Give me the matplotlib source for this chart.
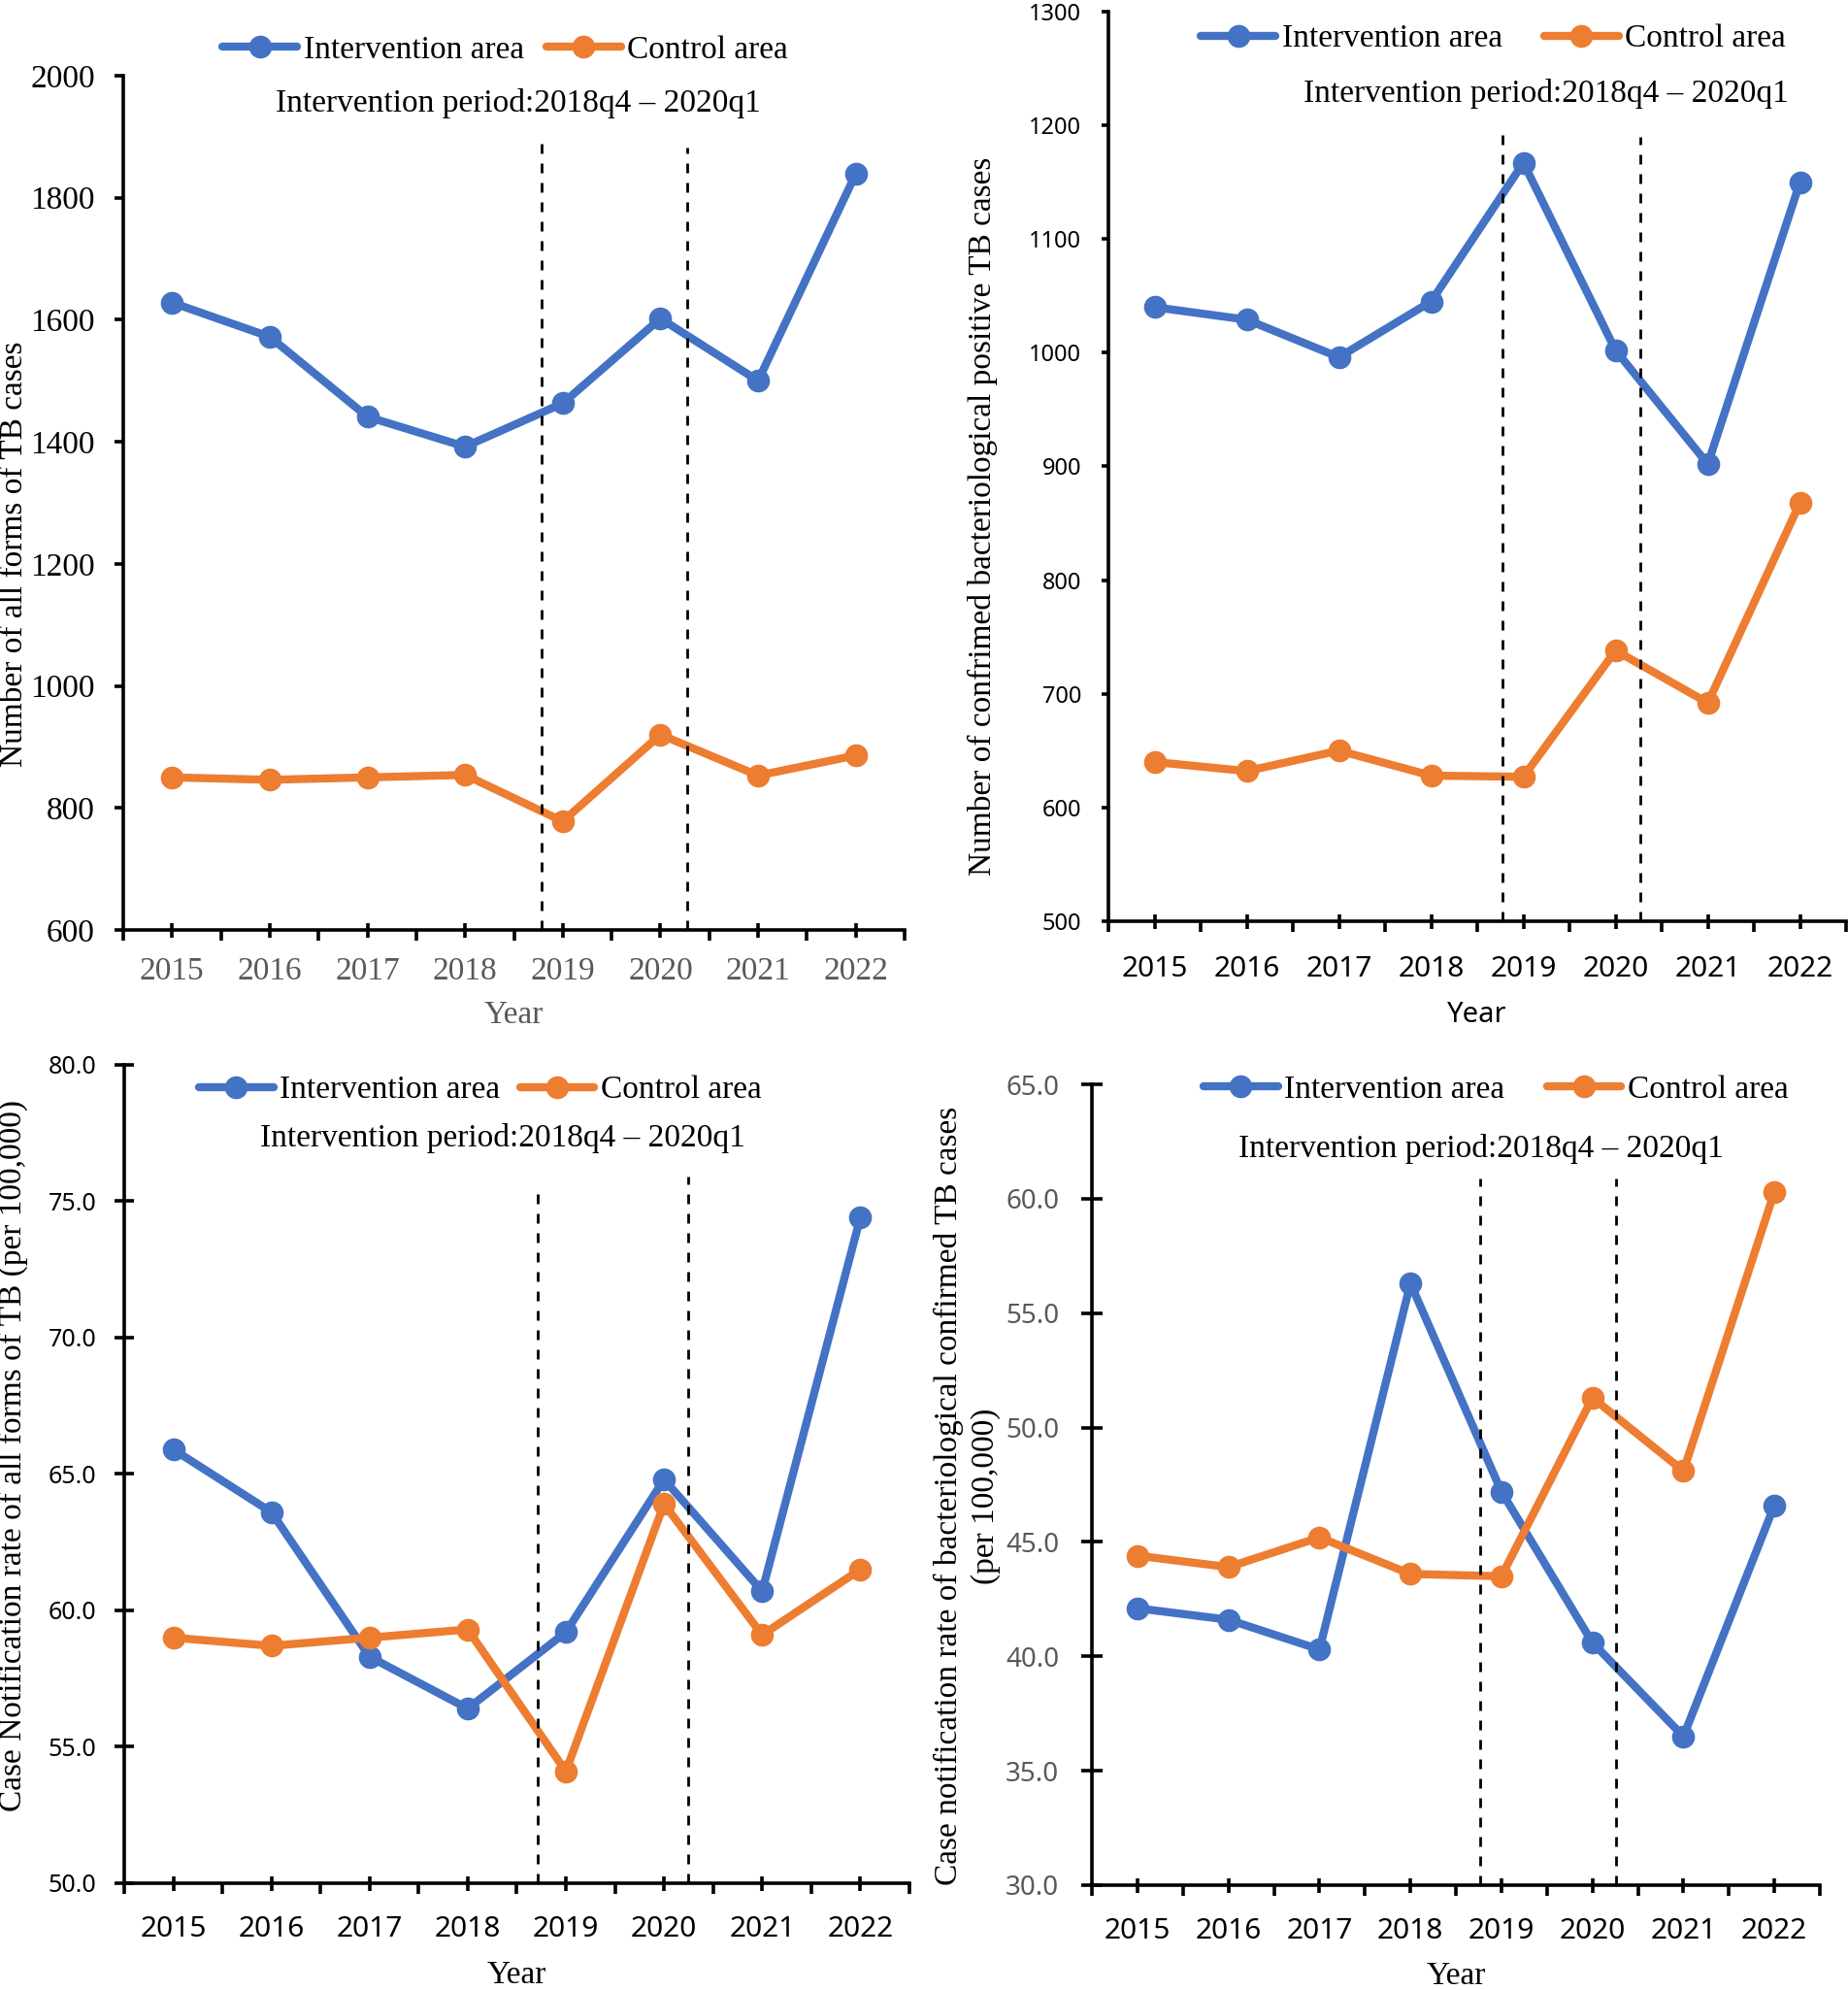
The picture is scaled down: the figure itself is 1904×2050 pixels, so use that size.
# Four-panel TB notification chart: intervention vs control area, 2015-2022.

import matplotlib
matplotlib.use('Agg')
from matplotlib import pyplot as plt
from matplotlib.ticker import FixedLocator, FormatStrFormatter

COLOR_BLUE = '#4472C4'
COLOR_ORANGE = '#ED7D31'
GRAY = '#595959'
SERIF = 'Liberation Serif'
SANS = 'Noto Sans'

years = ['2015', '2016', '2017', '2018', '2019', '2020', '2021', '2022']

# number of all forms of TB cases
all_forms_int = [1628, 1572, 1441, 1392, 1463, 1602, 1500, 1839]
all_forms_ctrl = [850, 846, 850, 854, 778, 920, 853, 886]

# number of bacteriologically confirmed cases
bact_int = [1040, 1029, 996, 1045, 1167, 1002, 902, 1150]
bact_ctrl = [640, 632, 650, 628, 627, 738, 692, 868]

# notification rate, all forms (per 100,000)
rate_all_int = [65.9, 63.6, 58.3, 56.4, 59.2, 64.8, 60.7, 74.4]
rate_all_ctrl = [59.0, 58.7, 59.0, 59.3, 54.1, 63.9, 59.1, 61.5]

# notification rate, bacteriologically confirmed (per 100,000)
rate_bact_int = [42.1, 41.6, 40.3, 56.3, 47.2, 40.6, 36.5, 46.6]
rate_bact_ctrl = [44.4, 43.9, 45.2, 43.6, 43.5, 51.3, 48.1, 60.3]

period_text = 'Intervention period:2018q4 \u2013 2020q1'

panels = [
    dict(rect=[0.0667, 0.5327, 0.4228, 0.4293],
         inter=all_forms_int, ctrl=all_forms_ctrl,
         ylim=(600, 2000), yticks=[600, 800, 1000, 1200, 1400, 1600, 1800, 2000], yfmt='%d',
         ylabel='Number of all forms of TB cases', ylabel_xy=(-0.139, 0.44),
         xtick_font=(SERIF, 24, GRAY), ytick_font=(SERIF, 24, 'black'),
         xlabel_font=(SERIF, 24, GRAY), xlabel_y=-0.10,
         xpad=14.5, ypad=14.4, ydir='out', ylen=6.5,
         legend_xy=(0.489, 1.03), legend_gap=0.7, note_xy=(0.506, 0.967),
         period=[3.78, 5.27], period_top=[1895, 1882]),
    dict(rect=[0.5998, 0.5371, 0.3992, 0.4571],
         inter=bact_int, ctrl=bact_ctrl,
         ylim=(500, 1300), yticks=[500, 600, 700, 800, 900, 1000, 1100, 1200, 1300], yfmt='%d',
         ylabel='Number of confrimed bacteriological positive TB cases', ylabel_xy=(-0.170, 0.445),
         xtick_font=(SANS, 21.5, 'black'), ytick_font=(SANS, 17, 'black'),
         xlabel_font=(SANS, 21, 'black'), xlabel_y=-0.1035,
         xpad=19.5, ypad=15, ydir='out', ylen=5,
         legend_xy=(0.522, 0.970), legend_gap=1.3, note_xy=(0.593, 0.910),
         period=[3.77, 5.27], period_top=[1192, 1190]),
    dict(rect=[0.0672, 0.0537, 0.4249, 0.4112],
         inter=rate_all_int, ctrl=rate_all_ctrl,
         ylim=(50, 80), yticks=[50, 55, 60, 65, 70, 75, 80], yfmt='%.1f',
         ylabel='Case Notification rate of all forms of TB (per 100,000)', ylabel_xy=(-0.142, 0.522),
         xtick_font=(SANS, 21.5, 'black'), ytick_font=(SANS, 18, 'black'),
         xlabel_font=(SERIF, 24, 'black'), xlabel_y=-0.113,
         xpad=18.4, ypad=13.7, ydir='inout', ylen=14,
         legend_xy=(0.4536, 0.969), legend_gap=0.6, note_xy=(0.482, 0.910),
         period=[3.71, 5.25], period_top=[75.6, 75.9]),
    dict(rect=[0.5909, 0.0527, 0.3939, 0.4024],
         inter=rate_bact_int, ctrl=rate_bact_ctrl,
         ylim=(30, 65), yticks=[30, 35, 40, 45, 50, 55, 60, 65], yfmt='%.1f',
         ylabel='Case notification rate of bacteriological confirmed TB cases\n(per 100,000)',
         ylabel_xy=(-0.172, 0.486),
         xtick_font=(SANS, 21.5, 'black'), ytick_font=(SANS, 20, GRAY),
         xlabel_font=(SERIF, 24, 'black'), xlabel_y=-0.114,
         xpad=18.7, ypad=16.5, ydir='inout', ylen=16,
         legend_xy=(0.555, 0.993), legend_gap=1.3, note_xy=(0.535, 0.919),
         period=[3.77, 5.26], period_top=[60.9, 60.9]),
]


def draw_panel(fig, p):
    ax = fig.add_axes(p['rect'])
    x = list(range(len(years)))

    ax.plot(x, p['inter'], color=COLOR_BLUE, lw=6, marker='o', ms=16,
            label='Intervention area', zorder=2, solid_capstyle='round')
    ax.plot(x, p['ctrl'], color=COLOR_ORANGE, lw=6, marker='o', ms=16,
            label='Control area', zorder=2.5, solid_capstyle='round')

    # intervention period boundaries
    for px, top in zip(p['period'], p['period_top']):
        ax.plot([px, px], [p['ylim'][0], top], color='black', lw=2,
                ls=(0, (3.6, 3.6)), zorder=3, clip_on=False)

    ax.set_xlim(-0.5, len(years) - 0.5)
    ax.set_ylim(*p['ylim'])

    for side in ('top', 'right'):
        ax.spines[side].set_visible(False)
    for side in ('left', 'bottom'):
        ax.spines[side].set_linewidth(2.6)

    ax.xaxis.set_major_locator(FixedLocator(x))
    ax.xaxis.set_minor_locator(FixedLocator([i - 0.5 for i in range(len(years) + 1)]))
    ax.set_xticklabels(years)
    ax.tick_params(axis='x', which='major', direction='inout', length=10.8,
                   width=2.6, pad=p['xpad'])
    ax.tick_params(axis='x', which='minor', direction='out', length=8, width=2.6)

    ax.yaxis.set_major_locator(FixedLocator(p['yticks']))
    ax.yaxis.set_major_formatter(FormatStrFormatter(p['yfmt']))
    ax.tick_params(axis='y', direction=p['ydir'], length=p['ylen'], width=2.6, pad=p['ypad'])

    fam, size, col = p['xtick_font']
    for t in ax.get_xticklabels():
        t.set_fontfamily(fam)
        t.set_fontsize(size)
        t.set_color(col)
    fam, size, col = p['ytick_font']
    for t in ax.get_yticklabels():
        t.set_fontfamily(fam)
        t.set_fontsize(size)
        t.set_color(col)

    ax.set_ylabel(p['ylabel'], fontfamily=SERIF, fontsize=24, va='center',
                  multialignment='center', linespacing=1.3)
    ax.yaxis.set_label_coords(*p['ylabel_xy'])

    fam, size, col = p['xlabel_font']
    ax.set_xlabel('Year', fontfamily=fam, fontsize=size, color=col, va='center')
    ax.xaxis.set_label_coords(0.5, p['xlabel_y'])

    ax.legend(loc='center', bbox_to_anchor=p['legend_xy'], ncol=2, frameon=False,
              handlelength=2.3, handletextpad=0.2, columnspacing=p['legend_gap'],
              borderaxespad=0, prop={'family': SERIF, 'size': 24})

    ax.text(p['note_xy'][0], p['note_xy'][1], period_text, transform=ax.transAxes,
            ha='center', va='center', fontfamily=SERIF, fontsize=24)
    return ax


def main():
    fig = plt.figure(figsize=(19.04, 20.5), dpi=100)
    for p in panels:
        draw_panel(fig, p)
    fig.savefig('out.png', dpi=100)


if __name__ == '__main__':
    main()
